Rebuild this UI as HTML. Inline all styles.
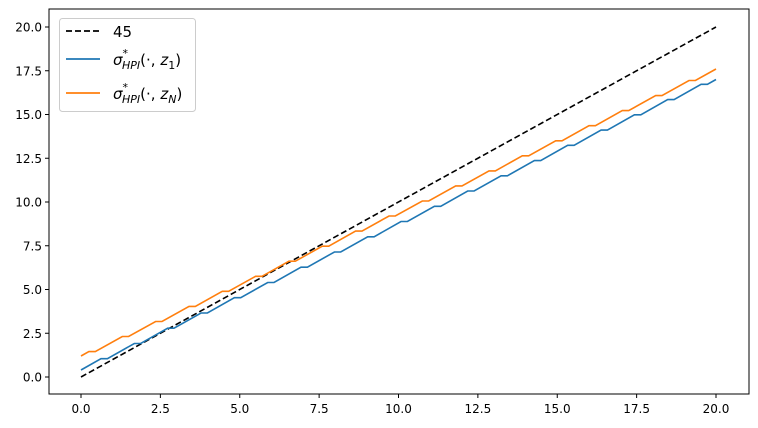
<!DOCTYPE html>
<html><head><meta charset="utf-8"><style>
body{margin:0;background:#fff;}
svg{display:block;font-family:"DejaVu Sans","Liberation Sans",sans-serif;}
</style></head><body>
<svg id="s" width="758" height="428" viewBox="0 0 758 428" xmlns="http://www.w3.org/2000/svg">
<rect x="0" y="0" width="758" height="428" fill="#fff"/>
<g id="lines"></g>
<rect x="49" y="9" width="700" height="385" fill="none" stroke="#000" stroke-width="1"/>
<g id="ticks" font-size="12" fill="#000"></g>
<g>
<rect x="59.5" y="18.5" width="136" height="93" rx="3" fill="#fff" fill-opacity="0.8" stroke="#ccc"/>
<line x1="66" y1="31" x2="100" y2="31" stroke="#000" stroke-width="1.8" stroke-dasharray="6,3"/>
<text x="113" y="37" font-size="15">45</text>
<line x1="66" y1="59" x2="100" y2="59" stroke="#1f77b4" stroke-width="1.8"/>
<text x="113" y="65" font-size="15" font-style="italic">σ<tspan font-size="11" dy="-8" font-style="normal">*</tspan><tspan font-size="11" dx="-6" dy="12">HPI</tspan><tspan font-style="normal" dy="-4">(·, </tspan>z<tspan font-size="11" font-style="normal" dy="4">1</tspan><tspan font-style="normal" dy="-4">)</tspan></text>
<line x1="66" y1="93" x2="100" y2="93" stroke="#ff7f0e" stroke-width="1.8"/>
<text x="113" y="99" font-size="15" font-style="italic">σ<tspan font-size="11" dy="-8" font-style="normal">*</tspan><tspan font-size="11" dx="-6" dy="12">HPI</tspan><tspan font-style="normal" dy="-4">(·, </tspan>z<tspan font-size="11" dy="4">N</tspan><tspan font-style="normal" dy="-4">)</tspan></text>
</g>
</svg>
<script>
var NS="http://www.w3.org/2000/svg";
function X(x){return 81+31.75*x;}
function Y(y){return 377-17.5*y;}
function stair(y0,y1,s0){
  var p=1.05,w=0.2,flats=[];
  for(var k=0;;k++){var s=s0+k*p;if(s>=20)break;flats.push([s,Math.min(s+w,20)]);}
  var fw=0;flats.forEach(function(f){fw+=f[1]-f[0];});
  var m=(y1-y0)/(20-fw);
  var pts=[[0,y0]],x=0,y=y0;
  flats.forEach(function(f){y+=m*(f[0]-x);pts.push([f[0],y]);x=f[1];pts.push([x,y]);});
  y+=m*(20-x);pts.push([20,y]);
  return pts.map(function(q){return X(q[0]).toFixed(1)+","+Y(q[1]).toFixed(1);}).join(" ");
}
var g=document.getElementById("lines");
function pl(pts,col,dash){var e=document.createElementNS(NS,"polyline");e.setAttribute("points",pts);e.setAttribute("fill","none");e.setAttribute("stroke",col);e.setAttribute("stroke-width","1.6");if(dash)e.setAttribute("stroke-dasharray",dash);g.appendChild(e);}
pl(X(0)+","+Y(0)+" "+X(20)+","+Y(20),"#000","6,3");
pl(stair(0.4,17.0,0.63),"#1f77b4");
pl(stair(1.2,17.6,0.25),"#ff7f0e");
var t=document.getElementById("ticks");
for(var i=0;i<=8;i++){var v=i*2.5,x=X(v);
 var l=document.createElementNS(NS,"line");l.setAttribute("x1",x);l.setAttribute("x2",x);l.setAttribute("y1",394);l.setAttribute("y2",398);l.setAttribute("stroke","#000");t.appendChild(l);
 var tx=document.createElementNS(NS,"text");tx.setAttribute("x",x);tx.setAttribute("y",413);tx.setAttribute("text-anchor","middle");tx.textContent=v.toFixed(1);t.appendChild(tx);
 var y=Y(v);
 var l2=document.createElementNS(NS,"line");l2.setAttribute("x1",45);l2.setAttribute("x2",49);l2.setAttribute("y1",y);l2.setAttribute("y2",y);l2.setAttribute("stroke","#000");t.appendChild(l2);
 var ty=document.createElementNS(NS,"text");ty.setAttribute("x",42);ty.setAttribute("y",y+4.5);ty.setAttribute("text-anchor","end");ty.textContent=v.toFixed(1);t.appendChild(ty);
}
</script>
</body></html>
